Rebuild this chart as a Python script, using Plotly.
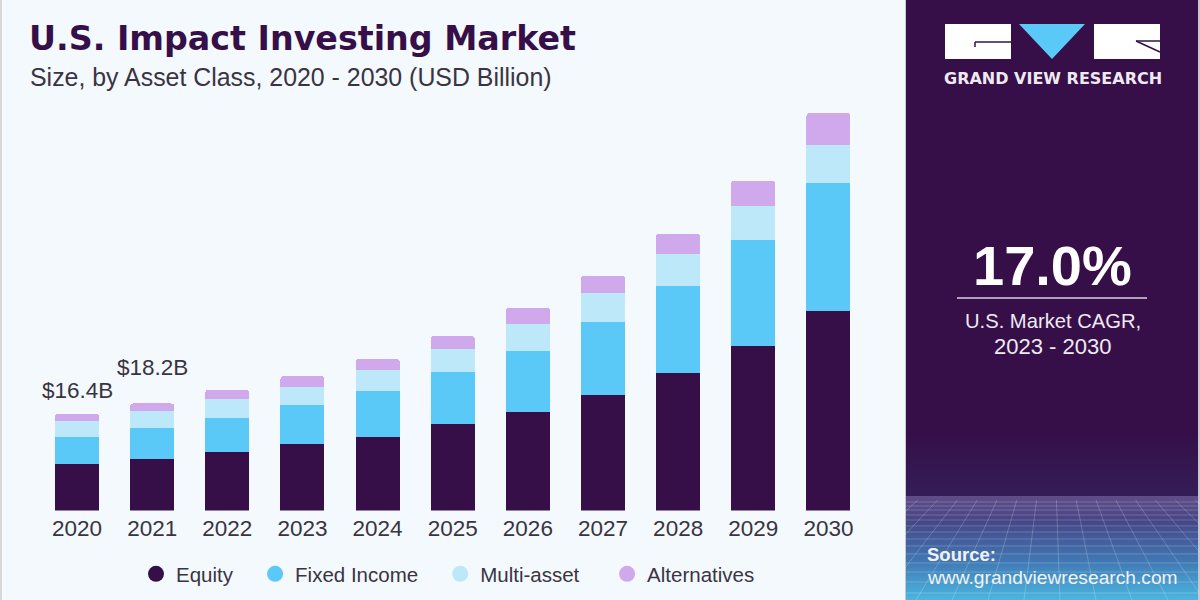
import plotly.graph_objects as go

years = ["2020", "2021", "2022", "2023", "2024", "2025", "2026", "2027", "2028", "2029", "2030"]
equity = [7.9, 8.76, 9.95, 11.3, 12.5, 14.7, 16.75, 19.64, 23.4, 28.0, 33.9]
fixed_income = [4.6, 5.27, 5.78, 6.63, 7.82, 8.84, 10.37, 12.41, 14.8, 18.03, 21.77]
multi_asset = [2.72, 2.89, 3.23, 3.06, 3.57, 3.91, 4.59, 4.93, 5.44, 5.78, 6.46]
alternatives = [1.18, 1.28, 1.53, 1.87, 1.87, 2.21, 2.72, 2.89, 3.4, 4.25, 5.44]
label_years = ["2020", "2021"]
label_totals = [16.4, 18.2]
label_text = ["$16.4B", "$18.2B"]

C_PURPLE, C_BLUE, C_LIGHT, C_LILAC = '#360f48', '#5bc9f8', '#bde8fa', '#d0a9ec'
C_BG, C_TEXT = '#f3f9fd', '#3a3442'
W, H = 1200, 600

def px_x(x): return x / W
def px_y(y): return 1 - y / H

def rect(x0, y0, x1, y1, color, opacity=1):
    return dict(type='rect', xref='paper', yref='paper', x0=px_x(x0), x1=px_x(x1), y0=px_y(y0), y1=px_y(y1),
                fillcolor=color, opacity=opacity, line=dict(width=0), layer='below')

def seg(x0, y0, x1, y1, color, width=1, opacity=1):
    return dict(type='line', xref='paper', yref='paper', x0=px_x(x0), x1=px_x(x1), y0=px_y(y0), y1=px_y(y1),
                line=dict(color=color, width=width), opacity=opacity, layer='below')

def label(x, y, text, size, color='white', bold=False, family='Liberation Sans', anchor='center'):
    if bold: text = f'<b>{text}</b>'
    return dict(xref='paper', yref='paper', x=px_x(x), y=px_y(y), text=text, showarrow=False, xanchor=anchor, yanchor='middle',
                font=dict(size=size, color=color, family=family))

fig = go.Figure()
# last field is the nbsp padding that sets the gap to the next legend entry
for name, vals, color, pad in [("Equity", equity, C_PURPLE, 3), ("Fixed Income", fixed_income, C_BLUE, 3),
                               ("Multi-asset", multi_asset, C_LIGHT, 4), ("Alternatives", alternatives, C_LILAC, 0)]:
    fig.add_trace(go.Bar(x=years, y=vals, marker=dict(color=color, line=dict(width=0)), name=name, showlegend=False))
    fig.add_trace(go.Scatter(x=[None], y=[None], mode='markers', name=name + '\u00a0' * pad,
                             marker=dict(color=color, size=16, symbol='circle')))

# side panel
shapes = [rect(0, 0, 2, 600, '#d8d8d8'), rect(905, 0, 1200, 600, '#c9c6cc'), rect(906, 0, 1198, 600, C_PURPLE)]
# bottom gradient: purple at the horizon down to light blue
stops = [(430, (54, 15, 72)), (495, (52, 30, 88)), (496, (96, 76, 136)), (520, (70, 70, 135)), (560, (65, 120, 180)), (600, (75, 185, 225))]
for i in range(len(stops) - 1):
    (y0, c0), (y1, c1) = stops[i], stops[i + 1]
    for y in range(y0, y1, 2):
        t = (y - y0) / (y1 - y0)
        c = tuple(int(a + (b - a) * t) for a, b in zip(c0, c1))
        shapes.append(rect(906, y, 1198, y + 2, f'rgb{c}'))
# perspective grid
for y in [502, 506, 510, 515, 520, 526, 532, 539, 546, 554, 563, 572, 582, 593]:
    shapes.append(seg(906, y, 1198, y, 'white', 1, 0.2))
for x in range(700, 1420, 36):
    shapes.append(seg(1052 + (x - 1052) * 0.55, 500, x, 600, 'white', 1, 0.2))
# logo
shapes += [rect(945, 24, 1011, 59, 'white'), rect(1094, 24, 1160, 59, 'white'),
           seg(975, 42, 1011, 42, C_PURPLE, 1.5), seg(975, 42, 975, 47, C_PURPLE, 1.5),
           seg(1136, 41, 1160, 41, C_PURPLE, 1.5), seg(1136, 41, 1160, 52, C_PURPLE, 1.5),
           seg(957, 298, 1147, 298, '#d8d2e0', 1.5)]
shapes.append(dict(type='path', xref='paper', yref='paper', layer='below', fillcolor=C_BLUE, line=dict(width=0),
                   path=f'M {px_x(1019)} {px_y(24)} L {px_x(1085)} {px_y(24)} L {px_x(1052)} {px_y(59)} Z'))

annos = [label(27, 39, 'U.S. Impact Investing Market', 33.3, C_PURPLE, True, 'DejaVu Sans', 'left'),
         label(28, 77, 'Size, by Asset Class, 2020 - 2030 (USD Billion)', 24.9, C_TEXT, False, 'Liberation Sans', 'left'),
         label(1052.5, 78, 'GRAND VIEW RESEARCH', 16, '#efeaf2', True, 'DejaVu Sans'),
         label(1052.5, 265, '17.0%', 56, 'white', True),
         label(1052.5, 321, 'U.S. Market CAGR,', 20.2, '#efeaf2'),
         label(1052.5, 346, '2023 - 2030', 22, '#efeaf2'),
         label(925, 554, 'Source:', 18.5, '#f2f2f7', True, anchor='left'),
         label(925, 577, 'www.grandviewresearch.com', 19.2, '#f2f2f7', anchor='left')]
for yr, tot, txt, shift in zip(label_years, label_totals, label_text, [9, 21]):
    # numeric-looking category names have to go in as the category index
    annos.append(dict(x=years.index(yr), y=tot, xref='x', yref='y', text=txt, showarrow=False, yanchor='bottom', yshift=shift,
                      font=dict(size=22.5, color=C_TEXT, family='Liberation Sans')))

fig.update_layout(width=W, height=H, margin=dict(l=0, r=0, t=0, b=0), autosize=False,
                  paper_bgcolor=C_BG, plot_bgcolor='rgba(0,0,0,0)', barmode='stack', bargap=0.414, barcornerradius=3,
                  shapes=shapes, annotations=annos,
                  xaxis=dict(domain=[39.45 / W, 866 / W], range=[-0.5, 10.5], type='category', showgrid=False, zeroline=False, showline=False,
                             tickfont=dict(size=22.5, color=C_TEXT, family='Liberation Sans'), ticks='', ticklabelstandoff=2),
                  yaxis=dict(domain=[1 - 510.5 / H, 1 - 100 / H], range=[0, 69.81], visible=False),
                  legend=dict(orientation='h', traceorder='normal', x=136 / W, xanchor='left', y=1 - 574 / H, yanchor='middle', bgcolor='rgba(0,0,0,0)',
                              font=dict(size=20.5, color=C_TEXT, family='Liberation Sans')),
                  hovermode=False)

fig.write_html("out.html", post_script="document.body.style.margin='0';", config=dict(displayModeBar=False))
